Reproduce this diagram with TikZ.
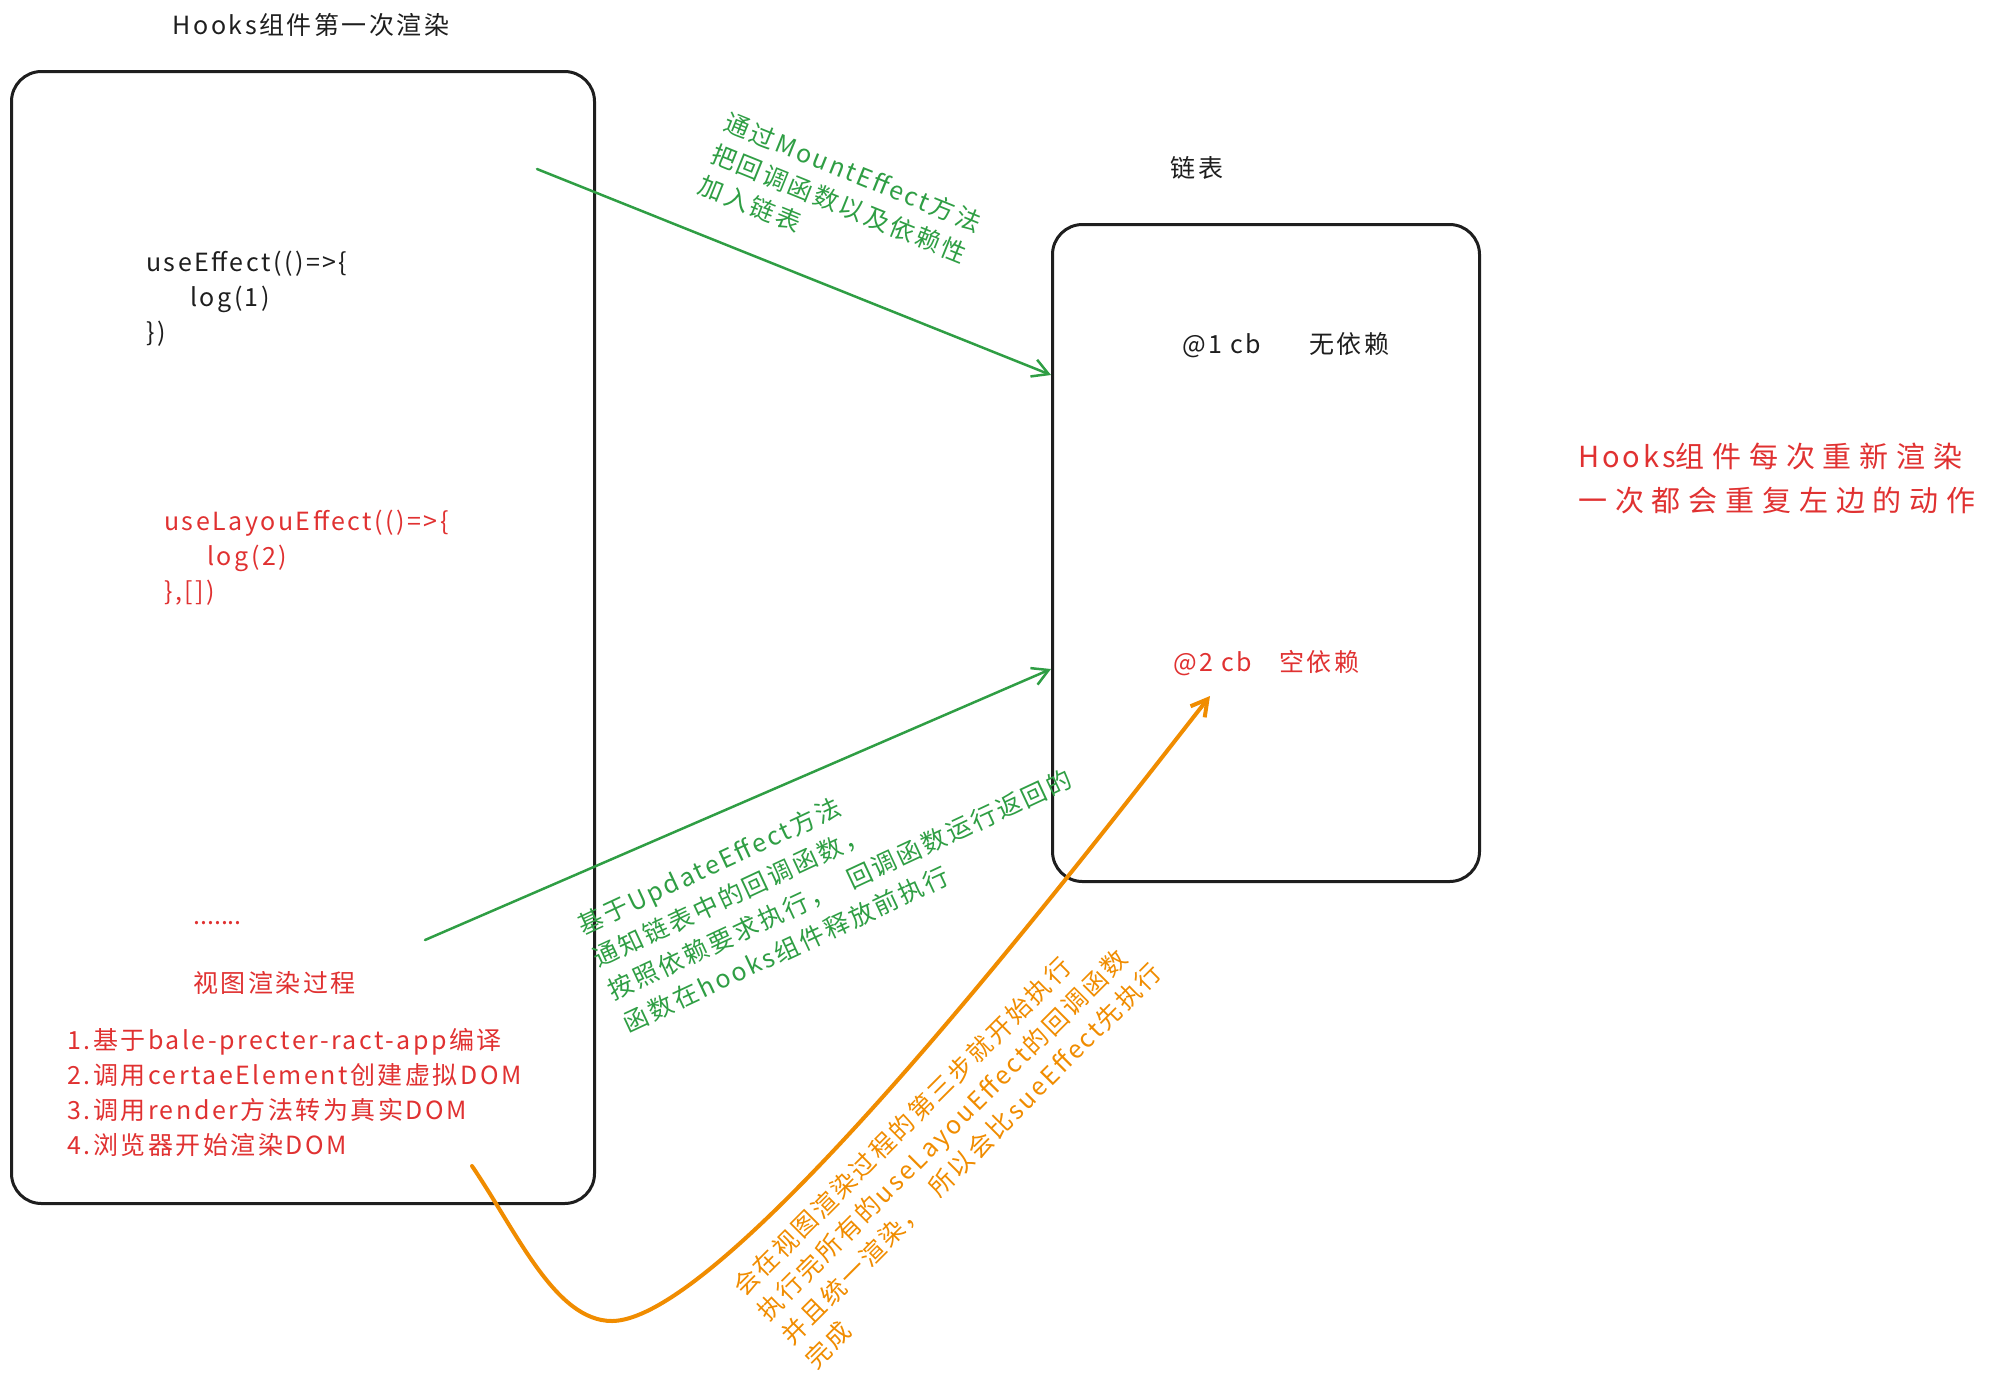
\documentclass[tikz,border=0pt]{standalone}
\usepackage{fontspec}
\setmainfont{Noto Sans CJK SC}[LetterSpace=10]
\newfontfamily\widefont{Noto Sans CJK SC}[LetterSpace=27]
\newfontfamily\plainfont{Noto Sans CJK SC}
\usetikzlibrary{arrows.meta}
\definecolor{inkblack}{HTML}{1E1E1E}
\definecolor{inkred}{HTML}{E03131}
\definecolor{inkgreen}{HTML}{2F9E44}
\definecolor{inkorange}{HTML}{F08C00}

\begin{document}
\begin{tikzpicture}[
    x=1pt, y=-1pt,
    every node/.style={inner sep=0pt, font=\fontsize{25}{35}\selectfont, text=inkblack},
    frame/.style={draw=inkblack, line width=3pt, rounded corners=30pt, anchor=north west},
    note/.style={align=left, anchor=north west},
    redtext/.style={text=inkred},
    flow/.style={line width=2.5pt, line cap=round, -{Straight Barb[length=16pt,width=18pt]}}
]
    \useasboundingbox (0,0) rectangle (1991,1393);

    \node (title) at (311,25) {Hooks组件第一次渲染};
    \node[frame, minimum width=583pt, minimum height=1132pt] (render) at (10,70) {};
    \node[note] (effect) at (146,251) {useEffect(()=>\{\\\hspace*{44pt}log(1)\\\})};
    \node[note, redtext] (layout) at (164,510) {useLayouEffect(()=>\{\\\hspace*{43pt}log(2)\\\},[])};
    \node[redtext, anchor=base west, font=\plainfont\fontsize{25}{35}\selectfont] (dots) at (193,924) {.......};
    \node[redtext, anchor=west] (viewtitle) at (193,983) {视图渲染过程};
    \node[note, redtext] (steps) at (67,1028) {1.基于bale-precter-ract-app编译\\2.调用certaeElement创建虚拟DOM\\3.调用render方法转为真实DOM\\4.浏览器开始渲染DOM};

    \node (chaintitle) at (1197,168) {链表};
    \node[frame, minimum width=427pt, minimum height=657pt] (chain) at (1051,223) {};
    \node[anchor=west] (cb1) at (1182,345) {@1 cb\hspace{48pt}无依赖};
    \node[anchor=west, redtext] (cb2) at (1173,663) {@2 cb\hspace{27pt}空依赖};

    \node[note, redtext, font=\widefont\fontsize{29}{44}\selectfont] (rerender) at (1578,443) {{\normalfont Hooks}组件每次重新渲染\\一次都会重复左边的动作};

    \node[note, text=inkgreen, rotate=-22, font=\fontsize{25}{34}\selectfont] (mountnote) at (730,110) {通过MountEffect方法\\把回调函数以及依赖性\\加入链表};
    \node[note, text=inkgreen, rotate=25, font=\fontsize{25}{36}\selectfont] (updatenote) at (574,916) {基于UpdateEffect方法\\通知链表中的回调函数，\\按照依赖要求执行，\hspace{18pt}回调函数运行返回的\\函数在hooks组件释放前执行};
    \node[note, text=inkorange, rotate=45, font=\fontsize{25}{34}\selectfont] (layoutnote) at (729,1283) {会在视图渲染过程的第三步就开始执行\\执行完所有的useLayouEffect的回调函数\\并且统一渲染，\hspace{18pt}所以会比sueEffect先执行\\完成};

    \coordinate (mountfrom) at (537,169);
    \coordinate (mountto) at (1051,375);
    \coordinate (updatefrom) at (425,940);
    \coordinate (updateto) at (1051,669);
    \coordinate (renderfrom) at (472,1166);
    \coordinate (dip) at (612,1321);
    \coordinate (layoutto) at (1210,696);

    \draw[flow, inkgreen] (mountfrom) -- (mountto);
    \draw[flow, inkgreen] (updatefrom) -- (updateto);
    \draw[flow, inkorange, line width=4pt] (renderfrom) .. controls (517,1232) and (555,1321) .. (dip)
        .. controls (730,1320) and (1086,854) .. (layoutto);
\end{tikzpicture}
\end{document}
